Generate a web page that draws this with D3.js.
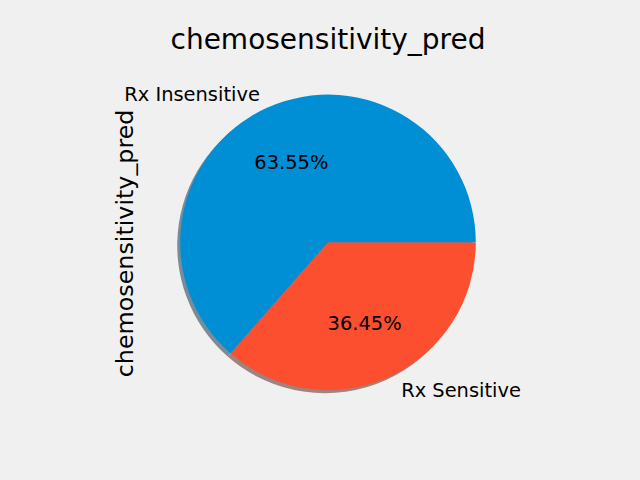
<!DOCTYPE html>
<html>
<head>
<meta charset="utf-8">
<script src="https://cdn.jsdelivr.net/npm/d3@7"></script>
<style>
  html, body { margin: 0; padding: 0; background: #f0f0f0; }
  svg { display: block; font-family: "DejaVu Sans", sans-serif; }
</style>
</head>
<body>
<svg id="chart" width="640" height="480"></svg>
<script>
const categories = ["Rx Insensitive", "Rx Sensitive"];
const values = [63.55, 36.45];
const colors = ["#008fd5", "#fc4f30"];
const shadowColors = ["#788d98", "#9e847f"];
const titleText = "chemosensitivity_pred";
const yLabelText = "chemosensitivity_pred";

const W = 640, H = 480;
const cx = 328, cy = 242.4, R = 147.8;
const svg = d3.select("#chart");
svg.append("rect").attr("width", W).attr("height", H).attr("fill", "#f0f0f0");

const data = categories.map((c, i) => ({ cat: c, value: values[i], color: colors[i], shadow: shadowColors[i] }));

const total = d3.sum(values);
const angleScale = d3.scaleLinear().domain([0, total]).range([0, 2 * Math.PI]);
let acc = 0;
const arcsData = data.map(d => {
  const a0 = angleScale(acc); acc += d.value; const a1 = angleScale(acc);
  return Object.assign({}, d, { m0: a0, m1: a1,
    startAngle: Math.PI / 2 - a1, endAngle: Math.PI / 2 - a0 });
});

const arc = d3.arc().innerRadius(0).outerRadius(R);

// shadow
const sh = svg.append("g").attr("transform", `translate(${cx - 0.02 * R},${cy + 0.02 * R})`);
sh.selectAll("path").data(arcsData).join("path")
  .attr("d", arc).attr("fill", d => d.shadow);

const g = svg.append("g").attr("transform", `translate(${cx},${cy})`);
g.selectAll("path").data(arcsData).join("path")
  .attr("d", arc).attr("fill", d => d.color);

// labels
arcsData.forEach(d => {
  const mid = (d.m0 + d.m1) / 2;
  const lx = 1.1 * R * Math.cos(mid), ly = -1.1 * R * Math.sin(mid);
  g.append("text")
    .attr("x", lx < 0 ? lx - 1 : lx + 6).attr("y", ly).attr("dy", "0.36em")
    .attr("text-anchor", lx < 0 ? "end" : "start")
    .attr("font-size", 19.44).attr("fill", "#000")
    .text(d.cat);
  const px = 0.6 * R * Math.cos(mid), py = -0.6 * R * Math.sin(mid);
  g.append("text")
    .attr("x", px).attr("y", py).attr("dy", "0.36em")
    .attr("text-anchor", "middle")
    .attr("font-size", 19.44).attr("fill", "#000")
    .text(d3.format(".2f")(d.value / total * 100) + "%");
});

// title
svg.append("text").attr("x", cx).attr("y", 49).attr("text-anchor", "middle")
  .attr("font-size", 28).attr("fill", "#000").text(titleText);

// y label
svg.append("text").attr("transform", `translate(133,${cy + 1}) rotate(-90)`)
  .attr("text-anchor", "middle").attr("font-size", 23.8).attr("fill", "#000")
  .text(yLabelText);
</script>
</body>
</html>
